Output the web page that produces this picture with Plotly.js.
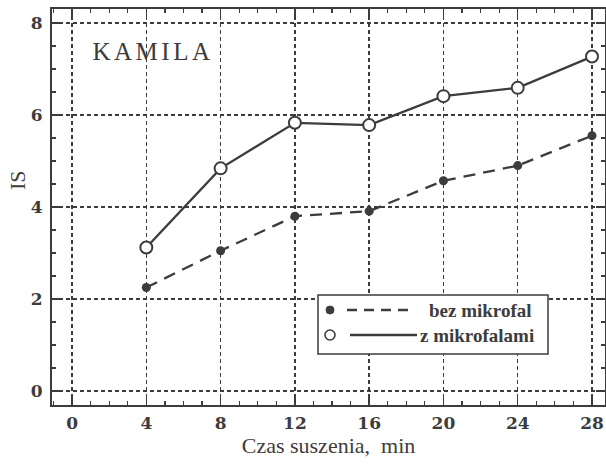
<!DOCTYPE html>
<html>
<head>
<meta charset="utf-8">
<script src="https://cdn.plot.ly/plotly-3.0.1.min.js"></script>
<style>html,body{margin:0;padding:0;background:#fff;}#chart{width:606px;height:465px;}</style>
</head>
<body>
<div id="chart"></div>
<script>
// Data
const czas = [4, 8, 12, 16, 20, 24, 28];
const bezMikrofal = [2.25, 3.05, 3.80, 3.91, 4.57, 4.90, 5.55];
const zMikrofalami = [3.12, 4.84, 5.83, 5.78, 6.41, 6.59, 7.27];
const seriesNames = ["bez mikrofal", "z mikrofalami"];
const xTicks = [0, 4, 8, 12, 16, 20, 24, 28];
const yTicks = [0, 2, 4, 6, 8];
const label = "KAMILA";
const xTitle = "Czas suszenia,\u00a0 min";
const yTitle = "IS";

const ink = "#3c3c3c";
const serif = "Liberation Serif, Times New Roman, serif";
const digits = "DejaVu Serif, serif";

// plot area in pixels (for the hand-drawn legend box)
const M = {l: 52, r: 1, t: 9, b: 60};
const W = 606, H = 465;
const pw = W - M.l - M.r, ph = H - M.t - M.b;
const px = v => (v - M.l) / pw;
const py = v => (H - M.b - v) / ph;

const dashStyle = "12px,8px";

const traces = [
  {
    x: czas, y: bezMikrofal, name: seriesNames[0], type: "scatter", mode: "lines+markers",
    line: {color: ink, width: 2.3, dash: dashStyle},
    marker: {color: ink, size: 9, symbol: "circle"}
  },
  {
    x: czas, y: zMikrofalami, name: seriesNames[1], type: "scatter", mode: "lines+markers",
    line: {color: ink, width: 2.3},
    marker: {color: "#ffffff", size: 12, symbol: "circle", line: {color: ink, width: 2}}
  }
];

const axisCommon = {
  showline: true, linecolor: ink, linewidth: 2, mirror: "ticks",
  ticks: "inside", ticklen: 9, tickwidth: 1.5, tickcolor: ink,
  showgrid: true, gridcolor: ink, gridwidth: 1.5, griddash: "4px,3px",
  zeroline: false,
  tickfont: {family: digits, size: 17, color: ink, weight: "bold"}
};

const legendShapes = [
  {type: "rect", xref: "paper", yref: "paper", x0: px(318), x1: px(548), y0: py(354), y1: py(295),
   line: {color: ink, width: 1.5}, fillcolor: "#ffffff", layer: "above"},
  {type: "circle", xref: "paper", yref: "paper", x0: px(326), x1: px(334), y0: py(314), y1: py(306),
   line: {color: ink, width: 1}, fillcolor: ink},
  {type: "line", xref: "paper", yref: "paper", x0: px(347), x1: px(410), y0: py(310), y1: py(310),
   line: {color: ink, width: 2.3, dash: "10px,7px"}},
  {type: "circle", xref: "paper", yref: "paper", x0: px(325), x1: px(335), y0: py(340), y1: py(330),
   line: {color: ink, width: 1.6}, fillcolor: "#ffffff"},
  {type: "line", xref: "paper", yref: "paper", x0: px(350), x1: px(417), y0: py(335), y1: py(335),
   line: {color: ink, width: 2.6}}
];

const layout = {
  width: W, height: H,
  margin: M,
  paper_bgcolor: "#ffffff", plot_bgcolor: "#ffffff",
  showlegend: false,
  xaxis: Object.assign({}, axisCommon, {
    range: [-1.08, 28.7], tickvals: xTicks, ticktext: xTicks.map(String),
    ticklabelstandoff: 2,
    minor: {dtick: 1, tick0: 0, ticks: "inside", ticklen: 4, tickcolor: ink, tickwidth: 1.2, showgrid: false},
    title: {text: xTitle, font: {family: serif, size: 22, color: ink}, standoff: 5}
  }),
  yaxis: Object.assign({}, axisCommon, {
    range: [-0.304, 8.304], tickvals: yTicks, ticktext: yTicks.map(String),
    ticklabelstandoff: 4,
    minor: {dtick: 0.5, tick0: 0, ticks: "inside", ticklen: 4, tickcolor: ink, tickwidth: 1.2, showgrid: false}
  }),
  shapes: legendShapes,
  annotations: [
    {x: 1.56, y: 7.37, xref: "x", yref: "y", text: label, showarrow: false,
     font: {family: serif, size: 25, color: ink}, xanchor: "left", yanchor: "middle"},
    {x: px(18), y: py(180), xref: "paper", yref: "paper", text: yTitle, showarrow: false,
     textangle: -90, font: {family: serif, size: 22, color: ink}, xanchor: "center", yanchor: "middle"},
    {x: px(427), y: py(310), xref: "paper", yref: "paper", text: seriesNames[0], showarrow: false,
     font: {family: serif, size: 19, color: ink, weight: "bold"}, xanchor: "left", yanchor: "middle"},
    {x: px(418), y: py(335), xref: "paper", yref: "paper", text: seriesNames[1], showarrow: false,
     font: {family: serif, size: 19, color: ink, weight: "bold"}, xanchor: "left", yanchor: "middle"}
  ]
};

Plotly.newPlot("chart", traces, layout, {displayModeBar: false, staticPlot: true}).then(gd => {
  // slightly wider letter spacing of the "KAMILA" label like in the original print
  const t = gd.querySelectorAll(".annotation-text")[0];
  if (t) t.style.letterSpacing = "3.5px";
});
</script>
</body>
</html>
